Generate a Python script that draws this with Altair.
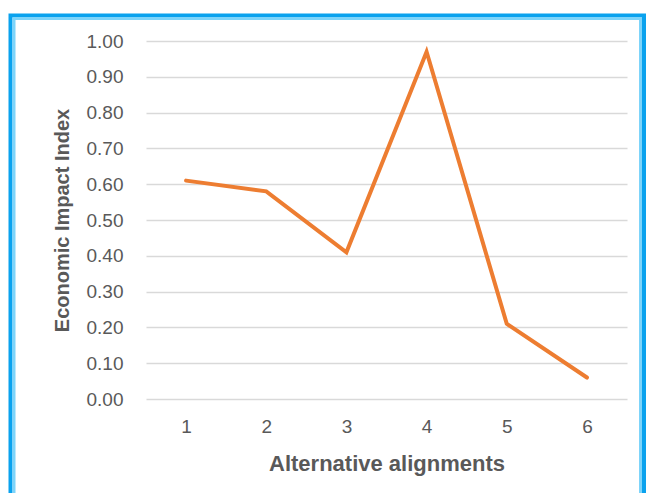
import altair as alt
import pandas as pd

# Data
alignments = ["1", "2", "3", "4", "5", "6"]
impact_index = [0.61, 0.58, 0.41, 0.97, 0.21, 0.06]
y_ticks = [0.0, 0.1, 0.2, 0.3, 0.4, 0.5, 0.6, 0.7, 0.8, 0.9, 1.0]

df = pd.DataFrame({"Alternative alignments": alignments, "Economic Impact Index": impact_index})

W, H = 481, 358
FONT = "Liberation Sans"
TXT = "#595959"

line = alt.Chart(df).mark_line(color="#ED7D31", strokeWidth=4, strokeCap="round").encode(
    x=alt.X(
        "Alternative alignments:N",
        sort=alignments,
        scale=alt.Scale(type="point", padding=0.5),
        axis=alt.Axis(
            title="Alternative alignments",
            labelAngle=0,
            domain=False,
            ticks=False,
            tickSize=0,
            grid=False,
            labelFont=FONT,
            labelFontSize=19,
            labelColor=TXT,
            labelPadding=18,
            titleFont=FONT,
            titleFontSize=22,
            titleFontWeight="bold",
            titleColor=TXT,
            titleBaseline="middle",
            titleY=64,
        ),
    ),
    y=alt.Y(
        "Economic Impact Index:Q",
        scale=alt.Scale(domain=[0, 1], nice=False, zero=True),
        axis=alt.Axis(
            title="Economic Impact Index",
            values=y_ticks,
            format=".2f",
            domain=False,
            ticks=False,
            tickSize=0,
            grid=True,
            gridColor="#D9D9D9",
            gridWidth=1.4,
            labelFont=FONT,
            labelFontSize=19,
            labelColor=TXT,
            labelPadding=23,
            titleFont=FONT,
            titleFontSize=20,
            titleFontWeight="bold",
            titleColor=TXT,
            titleBaseline="middle",
            titleAngle=-90,
            titleX=-84,
            titleY=H / 2,
        ),
    ),
)

frame_df = pd.DataFrame({"k": [0]})
outer = alt.Chart(frame_df).mark_rect(
    filled=False, stroke="#0AA2EE", strokeWidth=4, clip=False
).encode(
    x=alt.value(-135.5), x2=alt.value(498), y=alt.value(-25.5), y2=alt.value(520)
)
inner = alt.Chart(frame_df).mark_rect(
    filled=False, stroke="#7DD4FA", strokeWidth=3, clip=False
).encode(
    x=alt.value(-132), x2=alt.value(494.5), y=alt.value(-22.5), y2=alt.value(520)
)

chart = alt.layer(outer, inner, line).properties(
    width=W,
    height=H,
    autosize=alt.AutoSizeParams(type="none"),
    padding={"left": 138, "top": 33, "right": 19, "bottom": 94},
    background="white",
).configure_view(stroke=None)

chart.save("out.html", embed_options={"renderer": "svg", "actions": False})
